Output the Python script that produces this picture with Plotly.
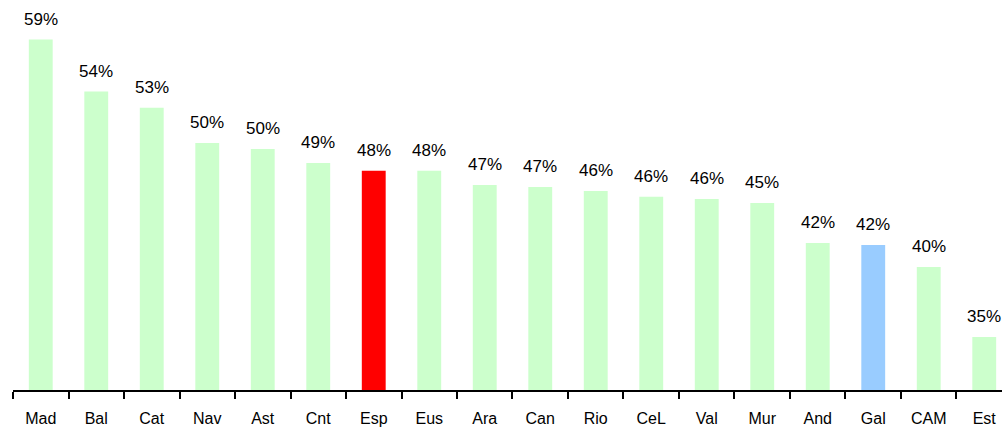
import plotly.graph_objects as go

categories = ["Mad", "Bal", "Cat", "Nav", "Ast", "Cnt", "Esp", "Eus", "Ara",
              "Can", "Rio", "CeL", "Val", "Mur", "And", "Gal", "CAM", "Est"]
values = [59.0, 54.8, 53.5, 50.66, 50.17, 49.04, 48.4, 48.4, 47.26,
          47.1, 46.78, 46.3, 46.13, 45.81, 42.58, 42.42, 40.64, 34.98]
labels = ["59%", "54%", "53%", "50%", "50%", "49%", "48%", "48%", "47%",
          "47%", "46%", "46%", "46%", "45%", "42%", "42%", "40%", "35%"]

GREEN = "#CCFFCC"
RED = "#FF0000"
BLUE = "#99CCFF"
colors = [RED if c == "Esp" else BLUE if c == "Gal" else GREEN for c in categories]

FONT = "Liberation Sans, Arial, sans-serif"

fig = go.Figure()
fig.add_trace(go.Bar(
    x=categories, y=values, marker=dict(color=colors, line=dict(width=0)),
    hoverinfo="skip", showlegend=False,
))

for c, v, t in zip(categories, values, labels):
    fig.add_annotation(x=c, y=v, text=t, showarrow=False, yanchor="bottom",
                       yshift=9, font=dict(family=FONT, size=17, color="#000000"))

fig.update_layout(
    width=1002, height=427,
    margin=dict(l=13, r=0, t=0, b=37),
    paper_bgcolor="white", plot_bgcolor="white",
    bargap=0.57,
    font=dict(family=FONT, size=16, color="#000000"),
    xaxis=dict(
        type="category", range=[-0.5, 17.32],
        showline=True, linecolor="#000000", linewidth=2,
        ticks="outside", tickson="boundaries", ticklen=7, tickwidth=2,
        tickcolor="#000000", showgrid=False, zeroline=False,
        ticklabelstandoff=13,
        tickfont=dict(family=FONT, size=16, color="#000000"),
    ),
    yaxis=dict(range=[30.7, 62.2], visible=False, showgrid=False, zeroline=False),
)

fig.write_html("out.html", config={"displayModeBar": False},
               post_script="document.body.style.margin='0';document.body.style.overflow='hidden';")
